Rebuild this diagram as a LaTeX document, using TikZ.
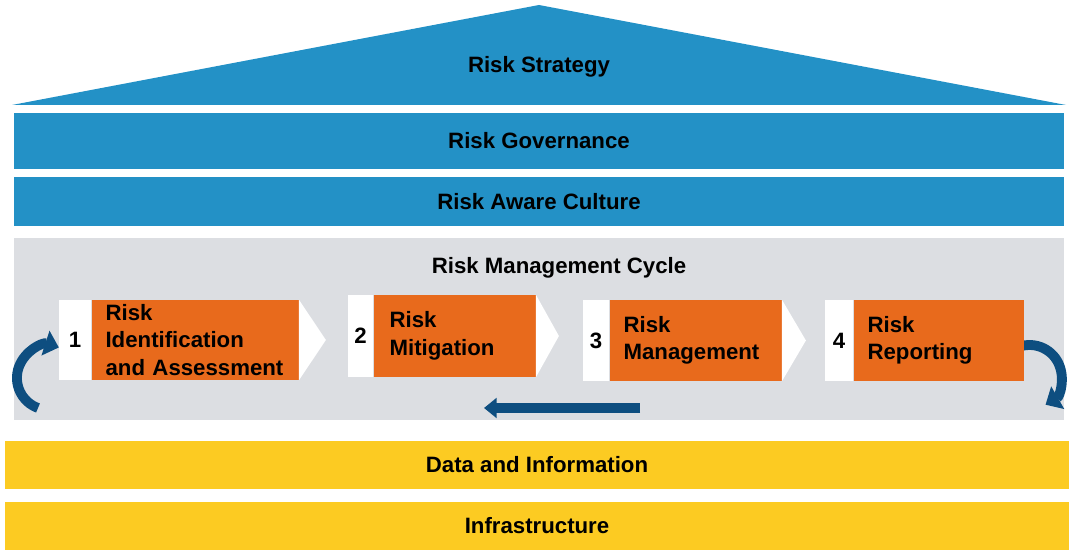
\documentclass[tikz,border=0pt]{standalone}
\usepackage{fontspec}
\setmainfont{Liberation Sans}
\usetikzlibrary{positioning,arrows.meta}

\definecolor{roofblue}{HTML}{2391C6}
\definecolor{cyclegrey}{HTML}{DCDEE2}
\definecolor{steporange}{HTML}{E86A1C}
\definecolor{arrowblue}{HTML}{0E4E80}
\definecolor{baseyellow}{HTML}{FCCB22}

\begin{document}
\begin{tikzpicture}
    [x=0.025cm,y=0.025cm,
     font=\fontsize{15.8}{19.6}\selectfont\bfseries,
     barstyle/.style={fill=roofblue,minimum width=26.25cm,inner sep=0pt},
     basestyle/.style={fill=baseyellow,minimum width=26.6cm,minimum height=1.2cm,inner sep=0pt},
     numstyle/.style={fill=white,inner sep=0pt},
     stepstyle/.style={fill=steporange,align=left,inner ysep=0pt},
     chevronstyle/.style={fill=white},
     cyclestyle/.style={draw=arrowblue,line width=7pt,-{Triangle[length=10pt,width=18pt]}},
     backstyle/.style={draw=arrowblue,line width=7pt,-{Triangle[length=9pt,width=14pt]}}]

    \useasboundingbox (0,0) rectangle (1069,550);

    % roof and upper bars
    \coordinate (roofl) at (12,445);
    \coordinate (roofr) at (1066,445);
    \coordinate (rooft) at (539,545);
    \fill[roofblue] (roofl) -- (rooft) -- (roofr) -- cycle;
    \node (strategy) at (539,483) {Risk Strategy};

    \node[barstyle,minimum height=1.4cm] (governance) at (539,409) {Risk Governance};
    \node[barstyle,minimum height=1.225cm] (culture) at (539,348.5) {Risk Aware Culture};

    % management cycle
    \node[fill=cyclegrey,minimum width=26.25cm,minimum height=4.55cm] (cycle) at (539,221) {};
    \node (cycletitle) at (559,282) {Risk Management Cycle};

    \coordinate (ls) at (38,142);
    \coordinate (rs) at (1016,202);
    \coordinate (ba) at (640,142);
    \coordinate (bb) at (484,142);
    \draw[cyclestyle] (ls) arc[start angle=250, end angle=72, radius=0.8cm];
    \draw[cyclestyle] (rs) arc[start angle=115, end angle=-60, radius=0.8cm];
    \draw[backstyle] (ba) -- (bb);

    \node[numstyle,minimum width=0.8cm,minimum height=2cm] (n1) at (75,210) {1};
    \node[stepstyle,right=0pt of n1,minimum height=2cm,text width=4.475cm,inner xsep=0.35cm] (s1)
        {Risk\\Identification\\and Assessment};
    \fill[chevronstyle] (s1.north east) -- ([xshift=0.675cm]s1.east) -- (s1.south east) -- cycle;

    \node[numstyle,minimum width=0.625cm,minimum height=2.05cm] (n2) at (360.5,214) {2};
    \node[stepstyle,right=0pt of n2,minimum height=2.05cm,text width=3.25cm,inner xsep=0.4cm] (s2)
        {Risk\\Mitigation};
    \fill[chevronstyle] (s2.north east) -- ([xshift=0.575cm]s2.east) -- (s2.south east) -- cycle;

    \node[numstyle,minimum width=0.65cm,minimum height=2.025cm] (n3) at (596,209.5) {3};
    \node[stepstyle,right=0pt of n3,minimum height=2.025cm,text width=3.6cm,inner xsep=0.35cm] (s3)
        {Risk\\Management};
    \fill[chevronstyle] (s3.north east) -- ([xshift=0.6cm]s3.east) -- (s3.south east) -- cycle;

    \node[numstyle,minimum width=0.7cm,minimum height=2.025cm] (n4) at (839,209.5) {4};
    \node[stepstyle,right=0pt of n4,minimum height=2.025cm,text width=3.55cm,inner xsep=0.35cm] (s4)
        {Risk\\Reporting};

    % foundation
    \node[basestyle] (data) at (537,85) {Data and Information};
    \node[basestyle] (infra) at (537,24) {Infrastructure};
  \end{tikzpicture}
\end{document}
